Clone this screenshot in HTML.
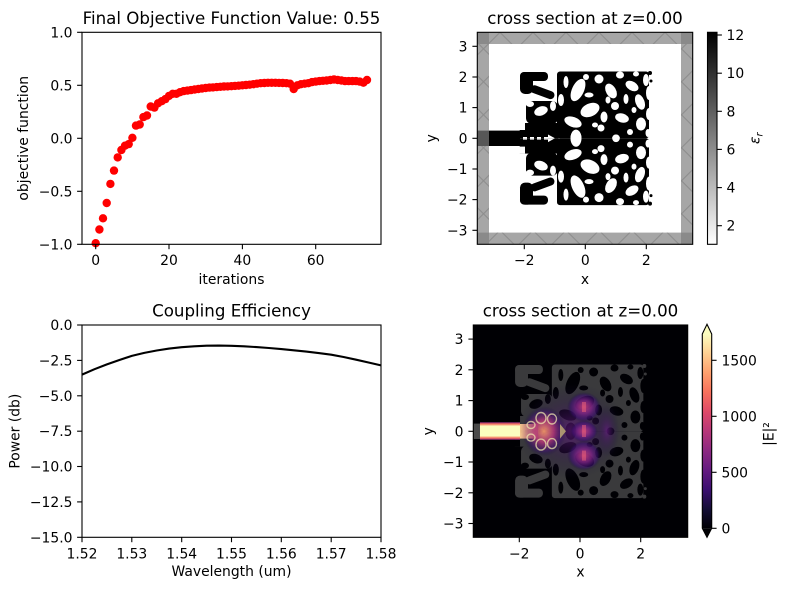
<!DOCTYPE html>
<html>
<head>
<meta charset="utf-8">
<style>
html,body{margin:0;padding:0;background:#fff;}
svg{display:block;}
text{font-family:"DejaVu Sans","Liberation Sans",sans-serif;fill:#000;}
.t{font-size:13.9px;}
.ti{font-size:16.67px;}
</style>
</head>
<body>
<svg width="787" height="590" viewBox="0 0 787 590" xmlns="http://www.w3.org/2000/svg" xmlns:xlink="http://www.w3.org/1999/xlink">
<defs>
  <pattern id="hatch" patternUnits="userSpaceOnUse" x="500" y="32.3" width="33" height="33">
    <path d="M0 0 L33 33 M33 0 L0 33" stroke="#8c8c8c" stroke-width="1" fill="none"/>
  </pattern>
  <linearGradient id="gray" x1="0" y1="0" x2="0" y2="1">
    <stop offset="0" stop-color="#000"/>
    <stop offset="1" stop-color="#fff"/>
  </linearGradient>
  <linearGradient id="magma" x1="0" y1="0" x2="0" y2="1">
    <stop offset="0" stop-color="#fcfdbf"/>
    <stop offset="0.1" stop-color="#fecf92"/>
    <stop offset="0.2" stop-color="#fe9f6d"/>
    <stop offset="0.3" stop-color="#f7705c"/>
    <stop offset="0.4" stop-color="#de4968"/>
    <stop offset="0.5" stop-color="#b73779"/>
    <stop offset="0.6" stop-color="#8c2981"/>
    <stop offset="0.7" stop-color="#641a80"/>
    <stop offset="0.8" stop-color="#3b0f70"/>
    <stop offset="0.9" stop-color="#140e36"/>
    <stop offset="1" stop-color="#000004"/>
  </linearGradient>
  <linearGradient id="beam" x1="0" y1="0" x2="0" y2="1">
    <stop offset="0" stop-color="#8c2981"/>
    <stop offset="0.1" stop-color="#f7705c"/>
    <stop offset="0.22" stop-color="#fcfdbf"/>
    <stop offset="0.78" stop-color="#fcfdbf"/>
    <stop offset="0.9" stop-color="#f7705c"/>
    <stop offset="1" stop-color="#8c2981"/>
  </linearGradient>
  <linearGradient id="beamfade" x1="0" y1="0" x2="1" y2="0">
    <stop offset="0" stop-color="#fecf92" stop-opacity="0.95"/>
    <stop offset="1" stop-color="#b73779" stop-opacity="0.6"/>
  </linearGradient>
  <radialGradient id="glow">
    <stop offset="0" stop-color="#fe9f6d" stop-opacity="0.9"/>
    <stop offset="0.45" stop-color="#b73779" stop-opacity="0.8"/>
    <stop offset="0.8" stop-color="#3b0f70" stop-opacity="0.5"/>
    <stop offset="1" stop-color="#140e36" stop-opacity="0"/>
  </radialGradient>
  <radialGradient id="lobe">
    <stop offset="0" stop-color="#c13d78" stop-opacity="0.95"/>
    <stop offset="0.45" stop-color="#7a2382" stop-opacity="0.85"/>
    <stop offset="0.8" stop-color="#3b0f70" stop-opacity="0.55"/>
    <stop offset="1" stop-color="#140e36" stop-opacity="0"/>
  </radialGradient>
  <radialGradient id="faint">
    <stop offset="0" stop-color="#641a80" stop-opacity="0.7"/>
    <stop offset="1" stop-color="#140e36" stop-opacity="0"/>
  </radialGradient>

  <g id="half">
    <!-- left cluster solids -->
    <rect x="520" y="72" width="28" height="9" rx="4"/>
    <rect x="520" y="72" width="13" height="22" rx="5"/>
    <rect x="530" y="88" width="25" height="8" rx="4" transform="rotate(20 542 92)"/>
    <rect x="526" y="101" width="32" height="23" rx="6"/>
    <rect x="519.7" y="123" width="39" height="15.3"/>
    <!-- main block -->
    <rect x="557" y="71.5" width="92" height="66.8" rx="3"/>
    <circle cx="650" cy="73" r="2"/>
    <circle cx="651" cy="81" r="1.5"/>
    <!-- holes -->
    <g fill="currentColor">
      <ellipse cx="541" cy="111" rx="7" ry="4.5" transform="rotate(-20 541 111)"/>
      <ellipse cx="530" cy="104" rx="4" ry="3"/>
      <ellipse cx="553" cy="106" rx="3" ry="5"/>
      <rect x="518" y="123" width="7" height="7"/>
      <rect x="523" y="137" width="4" height="1.4"/>
      <rect x="530" y="137" width="4" height="1.4"/>
      <rect x="537" y="137" width="4" height="1.4"/>
      <rect x="544" y="137" width="4" height="1.4"/>
      <path d="M548 134.5 L555 138.3 L548 138.3 Z"/>
      <ellipse cx="578" cy="90" rx="6" ry="12" transform="rotate(25 578 90)"/>
      <ellipse cx="599" cy="79" rx="4.5" ry="4.5"/>
      <ellipse cx="611" cy="91" rx="5" ry="8" transform="rotate(-30 611 91)"/>
      <ellipse cx="620" cy="75" rx="4" ry="3.5"/>
      <ellipse cx="632" cy="86" rx="7" ry="4.5" transform="rotate(30 632 86)"/>
      <ellipse cx="640" cy="102" rx="4.5" ry="8" transform="rotate(-20 640 102)"/>
      <ellipse cx="590" cy="110" rx="10" ry="6.5" transform="rotate(-25 590 110)"/>
      <circle cx="615" cy="106" r="4"/>
      <ellipse cx="622" cy="118" rx="7" ry="4.5" transform="rotate(15 622 118)"/>
      <ellipse cx="573" cy="122" rx="9" ry="5" transform="rotate(20 573 122)"/>
      <ellipse cx="576" cy="138.3" rx="5.5" ry="8.5"/>
      <circle cx="616" cy="138.3" r="3.8"/>
      <ellipse cx="641" cy="124" rx="5" ry="6.5"/>
      <circle cx="601" cy="128" r="3.5"/>
      <ellipse cx="646" cy="80" rx="3" ry="6"/>
      <ellipse cx="604" cy="117" rx="3.5" ry="5.5"/>
      <ellipse cx="561" cy="100" rx="3" ry="6"/>
      <ellipse cx="630" cy="132" rx="3" ry="3"/>
      <ellipse cx="566" cy="82" rx="2.5" ry="6"/>
      <ellipse cx="589" cy="95" rx="4.5" ry="2.5"/>
      <ellipse cx="626" cy="99" rx="2.5" ry="5"/>
      <ellipse cx="649" cy="93" rx="3" ry="7"/>
      <ellipse cx="595" cy="125" rx="3" ry="2.5"/>
      <ellipse cx="634" cy="110" rx="2.5" ry="3"/>
      <ellipse cx="649" cy="114" rx="3" ry="6"/>
      <ellipse cx="608" cy="100" rx="2.5" ry="3.5"/>
      <ellipse cx="586" cy="77" rx="3" ry="3"/>
      <ellipse cx="636" cy="74" rx="3" ry="2.5"/>
      <ellipse cx="648" cy="133" rx="2.5" ry="4"/>
    </g>
  </g>
  <g id="struct">
    <use xlink:href="#half" href="#half"/>
    <use xlink:href="#half" href="#half" transform="matrix(1,0,0,-1,0,276.6)"/>
  </g>
</defs>

<rect width="787" height="590" fill="#fff"/>

<!-- ============ TOP LEFT ============ -->
<text class="ti" x="231.5" y="24" text-anchor="middle">Final Objective Function Value: 0.55</text>
<g fill="#ff0000">
<circle cx="95.7" cy="243.2" r="4.2"/><circle cx="99.4" cy="229.5" r="4.2"/><circle cx="103.0" cy="218.3" r="4.2"/><circle cx="106.7" cy="203.0" r="4.2"/><circle cx="110.4" cy="183.9" r="4.2"/><circle cx="114.0" cy="170.6" r="4.2"/><circle cx="117.7" cy="157.4" r="4.2"/><circle cx="121.4" cy="150.0" r="4.2"/><circle cx="125.0" cy="145.7" r="4.2"/><circle cx="128.7" cy="144.1" r="4.2"/><circle cx="132.4" cy="137.8" r="4.2"/><circle cx="136.0" cy="125.6" r="4.2"/><circle cx="139.7" cy="124.5" r="4.2"/><circle cx="143.4" cy="117.1" r="4.2"/><circle cx="147.0" cy="115.5" r="4.2"/><circle cx="150.7" cy="106.5" r="4.2"/><circle cx="154.4" cy="107.6" r="4.2"/><circle cx="158.0" cy="103.3" r="4.2"/><circle cx="161.7" cy="101.2" r="4.2"/><circle cx="165.4" cy="99.1" r="4.2"/><circle cx="169.0" cy="95.9" r="4.2"/><circle cx="172.7" cy="93.8" r="4.2"/><circle cx="176.4" cy="93.8" r="4.2"/><circle cx="180.0" cy="92.2" r="4.2"/><circle cx="183.7" cy="91.1" r="4.2"/><circle cx="187.4" cy="90.6" r="4.2"/><circle cx="191.0" cy="90.1" r="4.2"/><circle cx="194.7" cy="89.5" r="4.2"/><circle cx="198.4" cy="89.0" r="4.2"/><circle cx="202.0" cy="88.5" r="4.2"/><circle cx="205.7" cy="88.0" r="4.2"/><circle cx="209.4" cy="87.6" r="4.2"/><circle cx="213.0" cy="87.4" r="4.2"/><circle cx="216.7" cy="87.1" r="4.2"/><circle cx="220.4" cy="86.8" r="4.2"/><circle cx="224.0" cy="86.5" r="4.2"/><circle cx="227.7" cy="86.4" r="4.2"/><circle cx="231.4" cy="86.2" r="4.2"/><circle cx="235.0" cy="85.9" r="4.2"/><circle cx="238.7" cy="85.7" r="4.2"/><circle cx="242.4" cy="85.3" r="4.2"/><circle cx="246.0" cy="85.0" r="4.2"/><circle cx="249.7" cy="84.7" r="4.2"/><circle cx="253.4" cy="84.2" r="4.2"/><circle cx="257.0" cy="83.7" r="4.2"/><circle cx="260.7" cy="83.2" r="4.2"/><circle cx="264.4" cy="83.0" r="4.2"/><circle cx="268.0" cy="82.8" r="4.2"/><circle cx="271.7" cy="82.8" r="4.2"/><circle cx="275.4" cy="82.8" r="4.2"/><circle cx="279.0" cy="82.9" r="4.2"/><circle cx="282.7" cy="83.0" r="4.2"/><circle cx="286.4" cy="83.2" r="4.2"/><circle cx="290.0" cy="83.7" r="4.2"/><circle cx="293.7" cy="89.0" r="4.2"/><circle cx="297.4" cy="85.3" r="4.2"/><circle cx="301.0" cy="84.2" r="4.2"/><circle cx="304.7" cy="83.7" r="4.2"/><circle cx="308.4" cy="83.2" r="4.2"/><circle cx="312.0" cy="82.1" r="4.2"/><circle cx="315.7" cy="81.6" r="4.2"/><circle cx="319.4" cy="81.1" r="4.2"/><circle cx="323.0" cy="80.8" r="4.2"/><circle cx="326.7" cy="80.5" r="4.2"/><circle cx="330.4" cy="80.0" r="4.2"/><circle cx="334.0" cy="79.5" r="4.2"/><circle cx="337.7" cy="80.0" r="4.2"/><circle cx="341.4" cy="80.5" r="4.2"/><circle cx="345.0" cy="81.1" r="4.2"/><circle cx="348.7" cy="81.1" r="4.2"/><circle cx="352.4" cy="81.1" r="4.2"/><circle cx="356.0" cy="81.1" r="4.2"/><circle cx="359.7" cy="81.6" r="4.2"/><circle cx="363.4" cy="82.7" r="4.2"/><circle cx="367.0" cy="80.0" r="4.2"/>
</g>
<rect x="82" y="32.3" width="299" height="212" fill="none" stroke="#000" stroke-width="1.1"/>
<g stroke="#000" stroke-width="1.1">
  <line x1="77.1" y1="32.3" x2="82" y2="32.3"/><line x1="77.1" y1="85.3" x2="82" y2="85.3"/><line x1="77.1" y1="138.3" x2="82" y2="138.3"/><line x1="77.1" y1="191.3" x2="82" y2="191.3"/><line x1="77.1" y1="244.3" x2="82" y2="244.3"/>
  <line x1="95.7" y1="244.3" x2="95.7" y2="249.2"/><line x1="169" y1="244.3" x2="169" y2="249.2"/><line x1="242.4" y1="244.3" x2="242.4" y2="249.2"/><line x1="315.7" y1="244.3" x2="315.7" y2="249.2"/>
</g>
<g class="t" text-anchor="end">
  <text class="t" x="72.5" y="37.3">1.0</text><text class="t" x="72.5" y="90.3">0.5</text><text class="t" x="72.5" y="143.3">0.0</text><text class="t" x="72.5" y="196.3">−0.5</text><text class="t" x="72.5" y="249.3">−1.0</text>
</g>
<g text-anchor="middle">
  <text class="t" x="95.7" y="265">0</text><text class="t" x="169" y="265">20</text><text class="t" x="242.4" y="265">40</text><text class="t" x="315.7" y="265">60</text>
  <text class="t" x="231.5" y="284">iterations</text>
  <text class="t" transform="translate(28,138.3) rotate(-90)">objective function</text>
</g>

<!-- ============ BOTTOM LEFT ============ -->
<text class="ti" x="231.5" y="316.7" text-anchor="middle">Coupling Efficiency</text>
<polyline fill="none" stroke="#000" stroke-width="2.1" stroke-linejoin="round" points="82,374.6 94.5,369.2 106.9,364.4 119.4,360 131.8,355.9 144.3,352.9 156.7,350.5 169.2,348.6 181.7,347.2 194.1,346.3 206.6,345.7 219,345.6 231.5,345.8 244,346.3 256.4,347.1 268.9,348.0 281.3,349.1 293.8,350.3 306.2,351.6 318.7,353.1 331.2,354.7 343.6,357.0 356.1,359.7 368.5,362.5 381,365.4"/>
<rect x="82" y="325" width="299" height="212.3" fill="none" stroke="#000" stroke-width="1.1"/>
<g stroke="#000" stroke-width="1.1">
  <line x1="77.1" y1="325" x2="82" y2="325"/><line x1="77.1" y1="360.4" x2="82" y2="360.4"/><line x1="77.1" y1="395.8" x2="82" y2="395.8"/><line x1="77.1" y1="431.2" x2="82" y2="431.2"/><line x1="77.1" y1="466.5" x2="82" y2="466.5"/><line x1="77.1" y1="501.9" x2="82" y2="501.9"/><line x1="77.1" y1="537.3" x2="82" y2="537.3"/>
  <line x1="82" y1="537.3" x2="82" y2="542.2"/><line x1="131.8" y1="537.3" x2="131.8" y2="542.2"/><line x1="181.7" y1="537.3" x2="181.7" y2="542.2"/><line x1="231.5" y1="537.3" x2="231.5" y2="542.2"/><line x1="281.3" y1="537.3" x2="281.3" y2="542.2"/><line x1="331.2" y1="537.3" x2="331.2" y2="542.2"/><line x1="381" y1="537.3" x2="381" y2="542.2"/>
</g>
<g text-anchor="end">
  <text class="t" x="72.5" y="330">0.0</text><text class="t" x="72.5" y="365.4">−2.5</text><text class="t" x="72.5" y="400.8">−5.0</text><text class="t" x="72.5" y="436.2">−7.5</text><text class="t" x="72.5" y="471.5">−10.0</text><text class="t" x="72.5" y="506.9">−12.5</text><text class="t" x="72.5" y="542.3">−15.0</text>
</g>
<g text-anchor="middle">
  <text class="t" x="82" y="558.3">1.52</text><text class="t" x="131.8" y="558.3">1.53</text><text class="t" x="181.7" y="558.3">1.54</text><text class="t" x="231.5" y="558.3">1.55</text><text class="t" x="281.3" y="558.3">1.56</text><text class="t" x="331.2" y="558.3">1.57</text><text class="t" x="381" y="558.3">1.58</text>
  <text class="t" x="231.5" y="576">Wavelength (um)</text>
  <text class="t" transform="translate(19.5,431.2) rotate(-90)">Power (db)</text>
</g>

<!-- ============ TOP RIGHT ============ -->
<text class="ti" x="585" y="24" text-anchor="middle">cross section at z=0.00</text>
<rect x="477.3" y="32.3" width="215.4" height="212" fill="#fff"/>
<g fill="#a6a6a6">
  <rect x="477.3" y="32.3" width="215.4" height="11.7"/>
  <rect x="477.3" y="232.6" width="215.4" height="11.7"/>
  <rect x="477.3" y="32.3" width="11.7" height="212"/>
  <rect x="681" y="32.3" width="11.7" height="212"/>
</g>
<g fill="url(#hatch)">
  <rect x="477.3" y="32.3" width="215.4" height="11.7"/>
  <rect x="477.3" y="232.6" width="215.4" height="11.7"/>
  <rect x="477.3" y="32.3" width="11.7" height="212"/>
  <rect x="681" y="32.3" width="11.7" height="212"/>
</g>
<g fill="#8a8a8a">
  <rect x="477.3" y="32.3" width="11.7" height="11.7"/>
  <rect x="681" y="32.3" width="11.7" height="11.7"/>
  <rect x="477.3" y="232.6" width="11.7" height="11.7"/>
  <rect x="681" y="232.6" width="11.7" height="11.7"/>
</g>
<rect x="477.3" y="130.6" width="11.7" height="15.4" fill="#575757"/>
<rect x="489" y="130.6" width="31" height="15.4" fill="#000"/>
<use xlink:href="#struct" href="#struct" fill="#000" color="#fff"/>
<rect x="477.3" y="32.3" width="215.4" height="212" fill="none" stroke="#000" stroke-width="1.1"/>
<g stroke="#000" stroke-width="1.1">
  <line x1="472.4" y1="46.3" x2="477.3" y2="46.3"/><line x1="472.4" y1="77" x2="477.3" y2="77"/><line x1="472.4" y1="107.6" x2="477.3" y2="107.6"/><line x1="472.4" y1="138.3" x2="477.3" y2="138.3"/><line x1="472.4" y1="169" x2="477.3" y2="169"/><line x1="472.4" y1="199.6" x2="477.3" y2="199.6"/><line x1="472.4" y1="230.3" x2="477.3" y2="230.3"/>
  <line x1="524.3" y1="244.3" x2="524.3" y2="249.2"/><line x1="585.3" y1="244.3" x2="585.3" y2="249.2"/><line x1="646.3" y1="244.3" x2="646.3" y2="249.2"/>
</g>
<g text-anchor="end">
  <text class="t" x="467.5" y="51.3">3</text><text class="t" x="467.5" y="82">2</text><text class="t" x="467.5" y="112.6">1</text><text class="t" x="467.5" y="143.3">0</text><text class="t" x="467.5" y="174">−1</text><text class="t" x="467.5" y="204.6">−2</text><text class="t" x="467.5" y="235.3">−3</text>
</g>
<g text-anchor="middle">
  <text class="t" x="524.3" y="265">−2</text><text class="t" x="585.3" y="265">0</text><text class="t" x="646.3" y="265">2</text>
  <text class="t" x="585" y="284">x</text>
  <text class="t" transform="translate(436,138.3) rotate(-90)">y</text>
</g>
<rect x="707.5" y="32.3" width="9.5" height="212" fill="url(#gray)" stroke="#000" stroke-width="1.1"/>
<g stroke="#000" stroke-width="1.1">
  <line x1="717" y1="35" x2="721.9" y2="35"/><line x1="717" y1="73.2" x2="721.9" y2="73.2"/><line x1="717" y1="111.3" x2="721.9" y2="111.3"/><line x1="717" y1="149.4" x2="721.9" y2="149.4"/><line x1="717" y1="187.6" x2="721.9" y2="187.6"/><line x1="717" y1="225.7" x2="721.9" y2="225.7"/>
</g>
<text class="t" x="726.5" y="40">12</text><text class="t" x="726.5" y="78.2">10</text><text class="t" x="726.5" y="116.3">8</text><text class="t" x="726.5" y="154.4">6</text><text class="t" x="726.5" y="192.6">4</text><text class="t" x="726.5" y="230.7">2</text>
<text class="t" text-anchor="middle" transform="translate(759.5,138.3) rotate(-90)" font-style="italic">ε<tspan font-size="9.7px" dy="3">r</tspan></text>

<!-- ============ BOTTOM RIGHT ============ -->
<text class="ti" x="580.5" y="316.7" text-anchor="middle">cross section at z=0.00</text>
<svg x="473.3" y="325" width="214.4" height="212.3" viewBox="473.3 325 214.4 212.3" overflow="hidden">
  <rect x="473.3" y="325" width="214.4" height="212.3" fill="#000004"/>
  <rect x="473.3" y="423.6" width="8" height="15.4" fill="#4a4a4a"/>
  <g transform="translate(580,431.3) scale(0.9944,1) translate(-585.3,-138.3)">
    <use xlink:href="#struct" href="#struct" fill="#3a3a3c" color="#000004"/>
  </g>
  <ellipse cx="572" cy="431" rx="55" ry="48" fill="url(#faint)"/>
  <ellipse cx="607" cy="431" rx="12" ry="26" fill="url(#faint)"/>
  <ellipse cx="584" cy="407" rx="17" ry="15" fill="url(#lobe)"/>
  <ellipse cx="584" cy="455.6" rx="17" ry="15" fill="url(#lobe)"/>
  <ellipse cx="584" cy="431.3" rx="14" ry="11" fill="url(#lobe)"/>
  <ellipse cx="544" cy="431.3" rx="22" ry="25" fill="url(#glow)"/>
  <rect x="480" y="422.3" width="40" height="17.4" fill="url(#beam)"/>
  <rect x="520" y="424" width="18" height="14.6" fill="url(#beamfade)"/>
  <g fill="none" stroke="#f4eeb0" stroke-width="1.4" opacity="0.7">
    <ellipse cx="541" cy="418" rx="5" ry="5.5"/>
    <ellipse cx="552" cy="419" rx="4.5" ry="5"/>
    <ellipse cx="541" cy="444.6" rx="5" ry="5.5"/>
    <ellipse cx="552" cy="443.6" rx="4.5" ry="5"/>
    <ellipse cx="531" cy="425" rx="4" ry="3.5"/>
    <ellipse cx="531" cy="437.6" rx="4" ry="3.5"/>
  </g>
  <g fill="#e8607a" opacity="0.55">
    <rect x="582" y="425" width="4" height="12"/>
    <rect x="582" y="402" width="4" height="10"/>
    <rect x="582" y="450.6" width="4" height="10"/>
  </g>
  <path d="M560 424 L566 431.3 L560 438.6 Z" fill="#d8c878" opacity="0.7"/>
</svg>
<rect x="473.3" y="325" width="214.4" height="212.3" fill="none" stroke="#000" stroke-width="1.1"/>
<g stroke="#000" stroke-width="1.1">
  <line x1="468.4" y1="339.1" x2="473.3" y2="339.1"/><line x1="468.4" y1="369.8" x2="473.3" y2="369.8"/><line x1="468.4" y1="400.6" x2="473.3" y2="400.6"/><line x1="468.4" y1="431.3" x2="473.3" y2="431.3"/><line x1="468.4" y1="462" x2="473.3" y2="462"/><line x1="468.4" y1="492.8" x2="473.3" y2="492.8"/><line x1="468.4" y1="523.5" x2="473.3" y2="523.5"/>
  <line x1="519.3" y1="537.3" x2="519.3" y2="542.2"/><line x1="580" y1="537.3" x2="580" y2="542.2"/><line x1="640.7" y1="537.3" x2="640.7" y2="542.2"/>
</g>
<g text-anchor="end">
  <text class="t" x="463.5" y="344.1">3</text><text class="t" x="463.5" y="374.8">2</text><text class="t" x="463.5" y="405.6">1</text><text class="t" x="463.5" y="436.3">0</text><text class="t" x="463.5" y="467">−1</text><text class="t" x="463.5" y="497.8">−2</text><text class="t" x="463.5" y="528.5">−3</text>
</g>
<g text-anchor="middle">
  <text class="t" x="519.3" y="558.3">−2</text><text class="t" x="580" y="558.3">0</text><text class="t" x="640.7" y="558.3">2</text>
  <text class="t" x="580.5" y="576.7">x</text>
  <text class="t" transform="translate(433,431.3) rotate(-90)">y</text>
</g>
<rect x="702.3" y="334" width="9.4" height="194.3" fill="url(#magma)"/>
<polygon points="702.3,334 711.7,334 707,324.3" fill="#fcfdbf"/>
<polygon points="702.3,528.3 711.7,528.3 707,537.3" fill="#000004"/>
<path d="M702.3 334 L707 324.3 L711.7 334 L711.7 528.3 L707 537.3 L702.3 528.3 Z" fill="none" stroke="#000" stroke-width="1.1"/>
<g stroke="#000" stroke-width="1.1">
  <line x1="711.7" y1="360.3" x2="716.6" y2="360.3"/><line x1="711.7" y1="416.3" x2="716.6" y2="416.3"/><line x1="711.7" y1="472.3" x2="716.6" y2="472.3"/><line x1="711.7" y1="528.3" x2="716.6" y2="528.3"/>
</g>
<text class="t" x="721.5" y="365.3">1500</text><text class="t" x="721.5" y="421.3">1000</text><text class="t" x="721.5" y="477.3">500</text><text class="t" x="721.5" y="533.3">0</text>
<text class="t" text-anchor="middle" transform="translate(773.5,434) rotate(-90)">|E|²</text>
</svg>
</body>
</html>
